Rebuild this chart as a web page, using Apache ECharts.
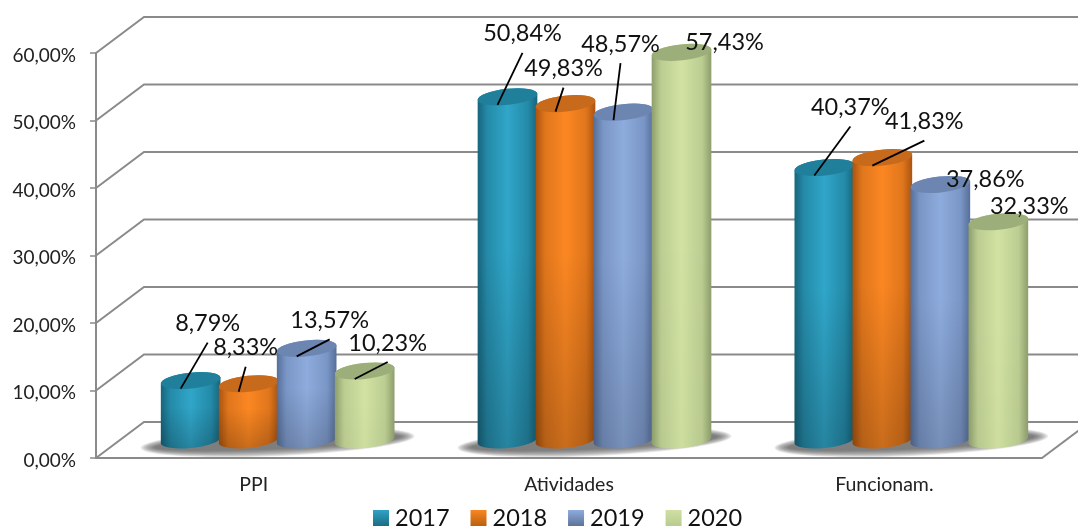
<!DOCTYPE html>
<html>
<head>
<meta charset="utf-8">
<style>html,body{margin:0;padding:0;background:#fff}#chart{width:1078px;height:527px}</style>
<script src="https://cdn.jsdelivr.net/npm/echarts@6/dist/echarts.min.js"></script>
</head>
<body>
<div id="chart"></div>
<script>
// Values per expense group and year
const categories = ['PPI', 'Atividades', 'Funcionam.'];
const years = ['2017', '2018', '2019', '2020'];
const values2017 = [8.79, 50.84, 40.37];
const values2018 = [8.33, 49.83, 41.83];
const values2019 = [13.57, 48.57, 37.86];
const values2020 = [10.23, 57.43, 32.33];
const gridTicks = [0, 10, 20, 30, 40, 50, 60];

// Cylinder shades: edge, mid, centre, lid, bottom darkening, legend top/bottom
const palette = [
  { edge: '#17647b', mid: '#248aa8', centre: '#30a6c9', lid: '#20809b', fade: 0.2, swatch: ['#2fa3c4', '#1c6c84'] },
  { edge: '#a9530f', mid: '#e0761c', centre: '#fb8722', lid: '#c86a1b', fade: 0.2, swatch: ['#f98622', '#b9600f'] },
  { edge: '#566e98', mid: '#7a96c6', centre: '#8dabdc', lid: '#6c86b1', fade: 0.16, swatch: ['#8dabdc', '#5c7399'] },
  { edge: '#8d9d6c', mid: '#bccd92', centre: '#d1e2a2', lid: '#9caf7a', fade: 0.02, swatch: ['#cfe0a2', '#b9cb8e'] }
];

// Label centre relative to each cylinder's lid, [group][year]
const labelShift = [
  [[17, -57], [-3, -36], [23, -28], [23, -28]],
  [[15, -63], [-2, -35], [-3, -68], [43, -10]],
  [[26, -60], [42, -36], [45, -5], [31, -15]]
];

const DEPTH_X = 48, DEPTH_Y = 36;
const TILT = 6, RX = 30, RY = 8, STEP = 58;
const GROUP_SPREAD = 1.5;
const AXIS_GREY = '#8a8a8a';
const FONT = 'Lato';
const SHADOW_LAYERS = 10;

const seriesValues = [values2017, values2018, values2019, values2020];
const tiltRad = TILT * Math.PI / 180;
const ex = RX * Math.cos(tiltRad), ey = RX * Math.sin(tiltRad);

function lidCentre(api, cat, yearIdx, value) {
  const p = api.coord([cat, value]);
  return [p[0] + DEPTH_X / 2 + cat * GROUP_SPREAD + (yearIdx - 1.5) * STEP, p[1] - DEPTH_Y / 2];
}
const fmt = v => v.toFixed(2).replace('.', ',') + '%';

// Back wall gridlines and the floor's right edge
function renderWall(params, api) {
  const v = api.value(0);
  const cs = params.coordSys;
  const y = api.coord([0, v])[1];
  const left = cs.x, right = cs.x + cs.width;
  const style = { stroke: AXIS_GREY, lineWidth: 2, fill: null };
  const kids = [{
    type: 'polyline', silent: true,
    shape: { points: [[left, y], [left + DEPTH_X, y - DEPTH_Y], [right + DEPTH_X, y - DEPTH_Y]] },
    style
  }];
  if (v === 0) {
    kids.push({ type: 'line', silent: true,
      shape: { x1: right, y1: y, x2: right + DEPTH_X, y2: y - DEPTH_Y }, style });
  }
  return { type: 'group', children: kids };
}

// Soft cast shadow on the floor: nested translucent ellipses fade outwards
function renderShadow(params, api) {
  const cat = api.value(0);
  const p = api.coord([cat, 0]);
  const cx = p[0] + DEPTH_X / 2 + cat * GROUP_SPREAD, cy = p[1] - DEPTH_Y / 2 + 2;
  const kids = [];
  for (let k = 0; k < SHADOW_LAYERS; k++) {
    const f = k / (SHADOW_LAYERS - 1);
    kids.push({
      type: 'ellipse', silent: true,
      shape: { cx: 0, cy: 0, rx: 137 - 14 * f, ry: 14 - 7 * f },
      x: cx, y: cy, rotation: 2.5 * Math.PI / 180,
      style: { fill: 'rgba(85,85,85,0.12)' }
    });
  }
  return { type: 'group', children: kids };
}

// One cylinder: body, bottom darkening, lid
function renderCylinder(yearIdx) {
  const c = palette[yearIdx];
  return function (params, api) {
    const cat = api.value(0), val = api.value(1);
    const top = lidCentre(api, cat, yearIdx, val);
    const base = lidCentre(api, cat, yearIdx, 0);
    const cx = top[0];
    const arc = `A ${RX} ${RY} ${-TILT} 1 0`;
    const body = `M ${cx - ex} ${top[1] + ey} L ${cx - ex} ${base[1] + ey} ${arc} ${cx + ex} ${base[1] - ey} L ${cx + ex} ${top[1] - ey} ${arc} ${cx - ex} ${top[1] + ey} Z`;
    const lid = `M ${cx - ex} ${top[1] + ey} ${arc} ${cx + ex} ${top[1] - ey} ${arc} ${cx - ex} ${top[1] + ey} Z`;
    return {
      type: 'group',
      children: [
        { type: 'path', silent: true, shape: { pathData: body },
          style: { fill: new echarts.graphic.LinearGradient(0, 0, 1, 0, [
            { offset: 0, color: c.edge }, { offset: 0.16, color: c.mid },
            { offset: 0.5, color: c.centre }, { offset: 0.84, color: c.mid },
            { offset: 1, color: c.edge }]) } },
        { type: 'path', silent: true, shape: { pathData: body },
          style: { fill: new echarts.graphic.LinearGradient(0, 0, 0, 1, [
            { offset: 0, color: 'rgba(0,0,0,0)' }, { offset: 0.45, color: 'rgba(0,0,0,0)' },
            { offset: 1, color: `rgba(0,0,0,${c.fade})` }]) } },
        { type: 'path', silent: true, shape: { pathData: lid }, style: { fill: c.lid } }
      ]
    };
  };
}

// Value labels with their leader lines, above all cylinders
function renderLabel(params, api) {
  const cat = api.value(0), yearIdx = api.value(1), val = api.value(2);
  const top = lidCentre(api, cat, yearIdx, val);
  const shift = labelShift[cat][yearIdx];
  const lx = top[0] + shift[0], ly = top[1] + shift[1];
  const kids = [];
  if (shift[1] < -20) {
    kids.push({ type: 'line', silent: true,
      shape: { x1: top[0] - 10, y1: top[1] + 8, x2: lx, y2: ly + 19 },
      style: { stroke: '#000', lineWidth: 1.8 } });
  }
  kids.push({ type: 'text', silent: true, x: lx, y: ly,
    style: { text: fmt(val), fill: '#111', font: `23.5px ${FONT}`, align: 'center', verticalAlign: 'middle' } });
  return { type: 'group', children: kids };
}

const labelRows = [];
categories.forEach((name, i) => years.forEach((_, j) => labelRows.push([i, j, seriesValues[j][i]])));

const option = {
  animation: false,
  backgroundColor: '#fff',
  textStyle: { fontFamily: FONT },
  grid: { left: 96, top: 53, width: 946, height: 405 },
  xAxis: {
    type: 'category', data: categories,
    axisLine: { lineStyle: { color: AXIS_GREY, width: 2 } },
    axisTick: { length: 7, lineStyle: { color: AXIS_GREY, width: 1.5 } },
    axisLabel: { color: '#222', fontSize: 19.5, fontFamily: FONT, margin: 17 }
  },
  yAxis: {
    type: 'value', min: 0, max: 60, interval: 10,
    axisLine: { show: true, lineStyle: { color: AXIS_GREY, width: 2 } },
    axisTick: { show: true, length: 6, lineStyle: { color: AXIS_GREY, width: 1.5 } },
    splitLine: { show: false },
    axisLabel: { color: '#222', fontSize: 19, fontFamily: FONT, margin: 20, verticalAlign: 'top', lineHeight: 5, formatter: fmt }
  },
  legend: {
    data: years, left: 368, top: 501, itemWidth: 16, itemHeight: 16, itemGap: 21, icon: 'rect',
    textStyle: { fontSize: 23.5, color: '#111', fontFamily: FONT, padding: [0, 0, 0, 1] }
  },
  series: [
    { type: 'custom', name: 'wall', z: 1, renderItem: renderWall, data: gridTicks.map(v => [v]), encode: { y: 0 }, silent: true, tooltip: { show: false } },
    { type: 'custom', name: 'shadow', z: 2, renderItem: renderShadow, data: categories.map((_, i) => [i, 0]), silent: true },
    ...years.map((y, j) => ({
      type: 'custom', name: y, z: 3 + j, renderItem: renderCylinder(j),
      itemStyle: { color: new echarts.graphic.LinearGradient(0, 0, 0, 1, [
        { offset: 0, color: palette[j].swatch[0] }, { offset: 1, color: palette[j].swatch[1] }]) },
      data: categories.map((_, i) => [i, seriesValues[j][i]])
    })),
    { type: 'custom', name: 'labels', z: 10, renderItem: renderLabel, data: labelRows,
      encode: { x: 0, y: 2 }, silent: true }
  ]
};

echarts.init(document.getElementById('chart')).setOption(option);
</script>
</body>
</html>
